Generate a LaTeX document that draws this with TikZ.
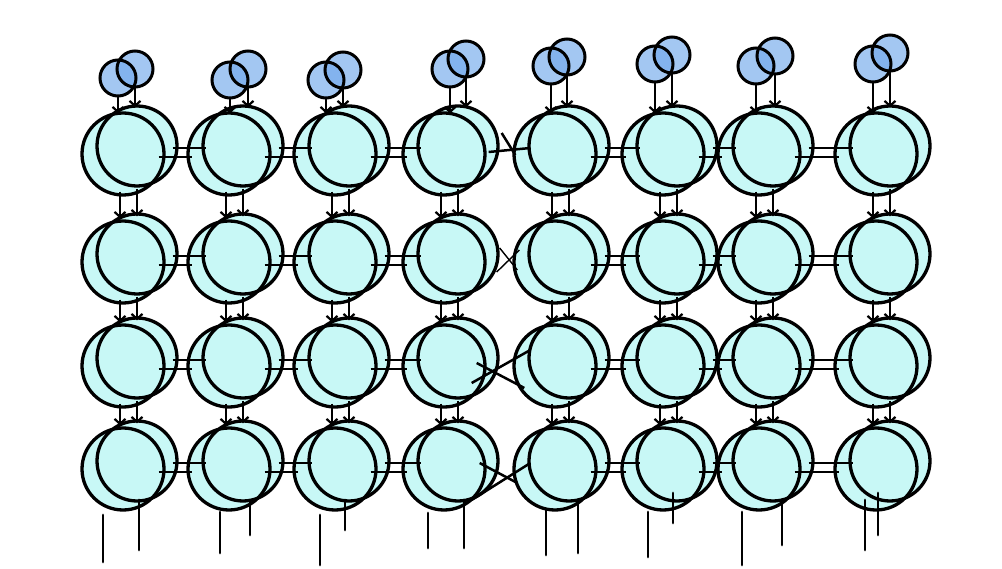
\documentclass[tikz,border=0pt]{standalone}
\usetikzlibrary{arrows.meta,calc}
\pgfdeclarelayer{bg}
\pgfsetlayers{bg,main}
\definecolor{cellfill}{HTML}{C8F8F6}
\definecolor{inblue}{HTML}{72A9EC}
\tikzset{
  ringA/.style={circle,draw=black,line width=3.3pt,minimum size=82pt,inner sep=0pt},
  ringB/.style={circle,draw=black,line width=3.3pt,minimum size=80pt,inner sep=0pt},
  smallring/.style={circle,draw=black,line width=3pt,minimum size=36pt,inner sep=0pt},
  flow/.style={line width=2.5pt,-{Straight Barb[length=5pt,width=11pt,line width=2.2pt]}},
  link/.style={line width=2.5pt},
  thinlink/.style={line width=1.4pt},
  leg/.style={line width=2.8pt,line cap=round},
}
\begin{document}
\begin{tikzpicture}[x=1pt,y=-1pt]
\begin{pgfonlayer}{bg}
\fill[white] (0,0) rectangle (1002,569);
\end{pgfonlayer}
\useasboundingbox (0,0) rectangle (1002,569);
\foreach \c/\cx/\slx/\sly/\srx/\sry/\la/\lat/\lab/\lb/\lbt/\lbb in {
  1/130/-12/78/5/69/-27/515/562/9/500/550,
  2/236/-6/80/12/69/-16/512/553/14/500/535,
  3/342/-16/80/1/70/-22/515/565/3/500/530,
  4/451/-1/69/15/59/-23/513/548/13/500/548,
  5/562/-11/66/5/57/-16/510/555/16/500/553,
  6/670/-15/64/2/55/-22/512/557/3/493/523,
  7/766/-10/66/9/56/-24/512/565/16/500/545,
  8/883/-10/64/7/53/-18/500/550/-5/493/535}{
  % cells
  \foreach \r/\cy in {1/150,2/258,3/362,4/465}{
    \node[ringA] (A-\c-\r) at (\cx-7,\cy+4) {};
    \node[ringB] (B-\c-\r) at (\cx+7,\cy-4) {};
    \begin{pgfonlayer}{bg}
      \fill[cellfill] (A-\c-\r.center) circle[radius=40pt];
      \fill[cellfill] (B-\c-\r.center) circle[radius=39pt];
    \end{pgfonlayer}
  }
  % input circles
  \node[smallring] (SL-\c) at (\cx+\slx,\sly) {};
  \node[smallring] (SR-\c) at (\cx+\srx,\sry) {};
  \begin{pgfonlayer}{bg}
    \fill[inblue,fill opacity=0.65] (SL-\c.center) circle[radius=17pt];
    \fill[inblue,fill opacity=0.65] (SR-\c.center) circle[radius=17pt];
  \end{pgfonlayer}
  \draw[flow] (SL-\c.south) -- ($(SL-\c.south |- B-\c-1.north)+(0,9)$);
  \draw[flow] (SR-\c.south) -- ($(SR-\c.south |- B-\c-1.north)+(0,3)$);
  % arrows between rows
  \foreach \r [evaluate=\r as \rn using int(\r+1)] in {1,2,3}{
    \draw[flow] ($(A-\c-\r.south)+(-3,-5)$) -- ($(A-\c-\rn.north)+(-3,-1)$);
    \draw[flow] ($(B-\c-\r.south)+(0,1)$) -- ($(B-\c-\rn.north)+(0,4)$);
  }
  % output legs
  \coordinate (LA1-\c) at (\cx+\la,\lat);
  \coordinate (LA2-\c) at (\cx+\la,\lab);
  \coordinate (LB1-\c) at (\cx+\lb,\lbt);
  \coordinate (LB2-\c) at (\cx+\lb,\lbb);
  \draw[leg] (LA1-\c) -- (LA2-\c);
  \draw[leg] (LB1-\c) -- (LB2-\c);
}
% horizontal links
\foreach \c/\cn in {1/2,2/3,3/4,5/6,6/7,7/8}{
  \foreach \r in {1,2,3,4}{
    \draw[link] ($(B-\c-\r.east)+(-6,2)$) -- ($(A-\cn-\r.west)+(20,-6)$);
    \draw[link] ($(B-\c-\r.east)+(-20,11)$) -- ($(A-\cn-\r.west)+(6,3)$);
  }
}
% crossing links between columns 4 and 5
\draw[link] ($(B-4-1.east)+(2,-13)$) -- ($(A-5-1.west)+(3,1)$);
\draw[link] ($(B-4-1.east)+(-11,6)$) -- ($(A-5-1.west)+(18,-6)$);
\draw[thinlink] ($(B-4-2.east)+(0,-6)$) -- ($(A-5-2.west)+(5,8)$);
\draw[thinlink] ($(B-4-2.east)+(-3,18)$) -- ($(A-5-2.west)+(7,-12)$);
\draw[link] ($(B-4-3.east)+(-23,5)$) -- ($(A-5-3.west)+(12,22)$);
\draw[link] ($(B-4-3.east)+(-28,25)$) -- ($(A-5-3.west)+(18,-16)$);
\draw[link] ($(B-4-4.east)+(-28,39)$) -- ($(A-5-4.west)+(18,-6)$);
\draw[link] ($(B-4-4.east)+(-20,2)$) -- ($(A-5-4.west)+(5,14)$);
\end{tikzpicture}
\end{document}
